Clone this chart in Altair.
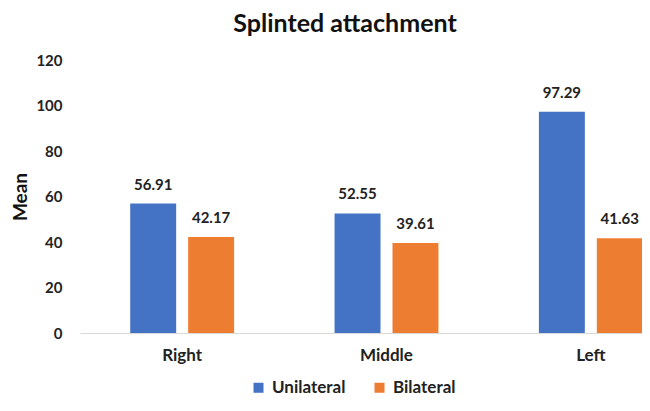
import altair as alt
import pandas as pd

categories = ["Right", "Middle", "Left"]
groups = ["Unilateral", "Bilateral"]
unilateral = [56.91, 52.55, 97.29]
bilateral = [42.17, 39.61, 41.63]

rows = []
for c, u, b in zip(categories, unilateral, bilateral):
    rows.append({"pos": c, "group": "Unilateral", "mean": u})
    rows.append({"pos": c, "group": "Bilateral", "mean": b})
df = pd.DataFrame(rows)
df["label"] = df["mean"].map(lambda v: f"{v:.2f}")

FONT = "Lato"

x = alt.X("pos:N", sort=categories, title=None,
          scale=alt.Scale(paddingInner=0, paddingOuter=0, range=[0, 613]),
          axis=alt.Axis(labelAngle=0, labelFont=FONT, labelFontSize=17, labelFontWeight="bold",
                        labelColor="#222222", labelPadding=14, ticks=False,
                        domainColor="#d9d9d9", grid=False))
xo = alt.XOffset("group:N", sort=groups,
                 scale=alt.Scale(paddingInner=0.207, paddingOuter=0.8665))
y = alt.Y("mean:Q", title="Mean", scale=alt.Scale(domain=[0, 120]),
          axis=alt.Axis(values=[0, 20, 40, 60, 80, 100, 120], grid=False, domain=False, ticks=False,
                        labelFont=FONT, labelFontSize=15, labelFontWeight="bold", labelColor="#222222",
                        labelPadding=18, titleFont=FONT, titleFontSize=19, titleFontWeight="bold",
                        titleColor="#111111", titlePadding=5))
color = alt.Color("group:N", sort=groups, title=None,
                  scale=alt.Scale(domain=groups, range=["#4472C4", "#ED7D31"]),
                  legend=alt.Legend(orient="none", legendX=170, legendY=319, direction="horizontal",
                                    symbolType="square", symbolSize=100, symbolStrokeWidth=0,
                                    labelFont=FONT, labelFontSize=17, labelFontWeight="bold",
                                    labelColor="#222222", labelOffset=5, columnPadding=25,
                                    padding=0))

bars = alt.Chart(df).mark_bar().encode(x=x, xOffset=xo, y=y, color=color)
text = alt.Chart(df).mark_text(dy=-14, baseline="alphabetic", font=FONT, fontSize=15,
                               fontWeight="bold", color="#222222").encode(
    x=x, xOffset=xo, y=y, text="label:N")

chart = (bars + text).properties(
    width=562, height=273,
    autosize=alt.AutoSizeParams(type="none"),
    padding={"left": 72, "top": 52, "right": 0, "bottom": 69},
    title=alt.Title("Splinted attachment", font=FONT, fontSize=25, fontWeight="bold", color="#111111",
                    offset=16, dx=-16),
).configure_view(stroke=None)

chart.save("out.html", embed_options={"renderer": "svg", "actions": False})
